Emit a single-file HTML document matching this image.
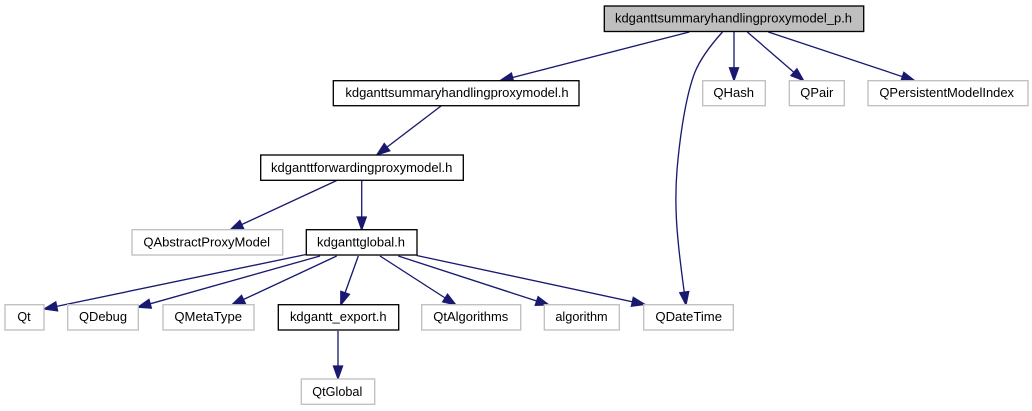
<!DOCTYPE html>
<html>
<head>
<meta charset="utf-8">
<style>
html,body{margin:0;padding:0;background:#fff;width:1032px;height:411px;overflow:hidden}
svg{display:block}
text{font-family:"Liberation Sans",Helvetica,Arial,sans-serif;font-size:13px;fill:#000;text-anchor:middle}
.b{fill:#fff;stroke:#000;stroke-width:1.33}
.g{fill:#fff;stroke:#bfbfbf;stroke-width:1.33}
.e{fill:none;stroke:#191970;stroke-width:1.33}
</style>
</head>
<body>
<svg width="1032" height="411" viewBox="0 0 1032 411" xmlns="http://www.w3.org/2000/svg">
<defs>
<marker id="a" markerUnits="userSpaceOnUse" markerWidth="18" markerHeight="14" refX="14" refY="7" orient="auto" viewBox="0 0 18 14">
<polygon points="1,2.4 14,7 1,11.6" fill="#191970" stroke="#191970" stroke-width="1.2"/>
</marker>
</defs>

<path class="e" marker-end="url(#a)" d="M689.3,32 L500,80.7"/>
<path class="e" marker-end="url(#a)" d="M722.5,32 C708,48 700,60 695,72 C686,95 680,135 677,170 C675,195 676,220 678,240 C680,262 683,283 686,305"/>
<path class="e" marker-end="url(#a)" d="M734,32 L734,80.7"/>
<path class="e" marker-end="url(#a)" d="M747.3,32 L803.7,80.7"/>
<path class="e" marker-end="url(#a)" d="M768.3,32 L914.7,80.7"/>
<path class="e" marker-end="url(#a)" d="M441,106 L376.7,155"/>
<path class="e" marker-end="url(#a)" d="M336.7,180.5 L230,230"/>
<path class="e" marker-end="url(#a)" d="M361.7,180.5 L361.7,230"/>
<path class="e" marker-end="url(#a)" d="M306,254.5 L44,309"/>
<path class="e" marker-end="url(#a)" d="M320,256 L137.7,307.3"/>
<path class="e" marker-end="url(#a)" d="M336.7,256 L231.7,305"/>
<path class="e" marker-end="url(#a)" d="M358.3,256 L340.7,305"/>
<path class="e" marker-end="url(#a)" d="M338,331 L338,379"/>
<path class="e" marker-end="url(#a)" d="M380,256 L456,305"/>
<path class="e" marker-end="url(#a)" d="M398.3,256 L549,305"/>
<path class="e" marker-end="url(#a)" d="M416.7,255.5 L645,304.5"/>

<rect x="604.3" y="6" width="259.4" height="25.5" fill="#bfbfbf" stroke="#000" stroke-width="1.33"/>
<text x="733.5" y="22.6" textLength="237" lengthAdjust="spacingAndGlyphs">kdganttsummaryhandlingproxymodel_p.h</text>

<rect class="b" x="333.3" y="80.7" width="245.7" height="25"/>
<text x="457" y="97" textLength="223.3" lengthAdjust="spacingAndGlyphs">kdganttsummaryhandlingproxymodel.h</text>

<rect class="g" x="702.7" y="80.7" width="62.6" height="25"/>
<text x="733.7" y="97" textLength="40.7" lengthAdjust="spacingAndGlyphs">QHash</text>

<rect class="g" x="789.3" y="80.7" width="55" height="25"/>
<text x="816.8" y="97" textLength="33" lengthAdjust="spacingAndGlyphs">QPair</text>

<rect class="g" x="868" y="80.7" width="160" height="25"/>
<text x="946.7" y="97" textLength="134.7" lengthAdjust="spacingAndGlyphs">QPersistentModelIndex</text>

<rect class="b" x="260.7" y="155" width="202.6" height="25.3"/>
<text x="361.7" y="171.8" textLength="181.3" lengthAdjust="spacingAndGlyphs">kdganttforwardingproxymodel.h</text>

<rect class="g" x="132" y="229.7" width="150.7" height="25.3"/>
<text x="206.7" y="246.3" textLength="126.7" lengthAdjust="spacingAndGlyphs">QAbstractProxyModel</text>

<rect class="b" x="306.3" y="229.7" width="110.7" height="25.3"/>
<text x="361" y="246.3" textLength="88" lengthAdjust="spacingAndGlyphs">kdganttglobal.h</text>

<rect class="g" x="5" y="304.7" width="39" height="25.3"/>
<text x="24" y="321.2" textLength="13.3" lengthAdjust="spacingAndGlyphs">Qt</text>

<rect class="g" x="67.7" y="304.7" width="70.6" height="25.3"/>
<text x="103" y="321.2" textLength="48" lengthAdjust="spacingAndGlyphs">QDebug</text>

<rect class="g" x="163" y="304.7" width="91" height="25.3"/>
<text x="208.2" y="321.2" textLength="67.7" lengthAdjust="spacingAndGlyphs">QMetaType</text>

<rect class="b" x="278.3" y="304.7" width="120.4" height="25.3"/>
<text x="338.3" y="321.2" textLength="96.7" lengthAdjust="spacingAndGlyphs">kdgantt_export.h</text>

<rect class="g" x="421.7" y="304.7" width="99" height="25.3"/>
<text x="470.8" y="321.2" textLength="75" lengthAdjust="spacingAndGlyphs">QtAlgorithms</text>

<rect class="g" x="544.3" y="304.7" width="75" height="25.3"/>
<text x="581.5" y="321.2" textLength="52.3" lengthAdjust="spacingAndGlyphs">algorithm</text>

<rect class="g" x="643.7" y="304.7" width="89.6" height="25.3"/>
<text x="688.7" y="321.2" textLength="66.7" lengthAdjust="spacingAndGlyphs">QDateTime</text>

<rect class="g" x="301.3" y="379" width="73.4" height="25.3"/>
<text x="337.3" y="395.8" textLength="50" lengthAdjust="spacingAndGlyphs">QtGlobal</text>
</svg>
</body>
</html>
